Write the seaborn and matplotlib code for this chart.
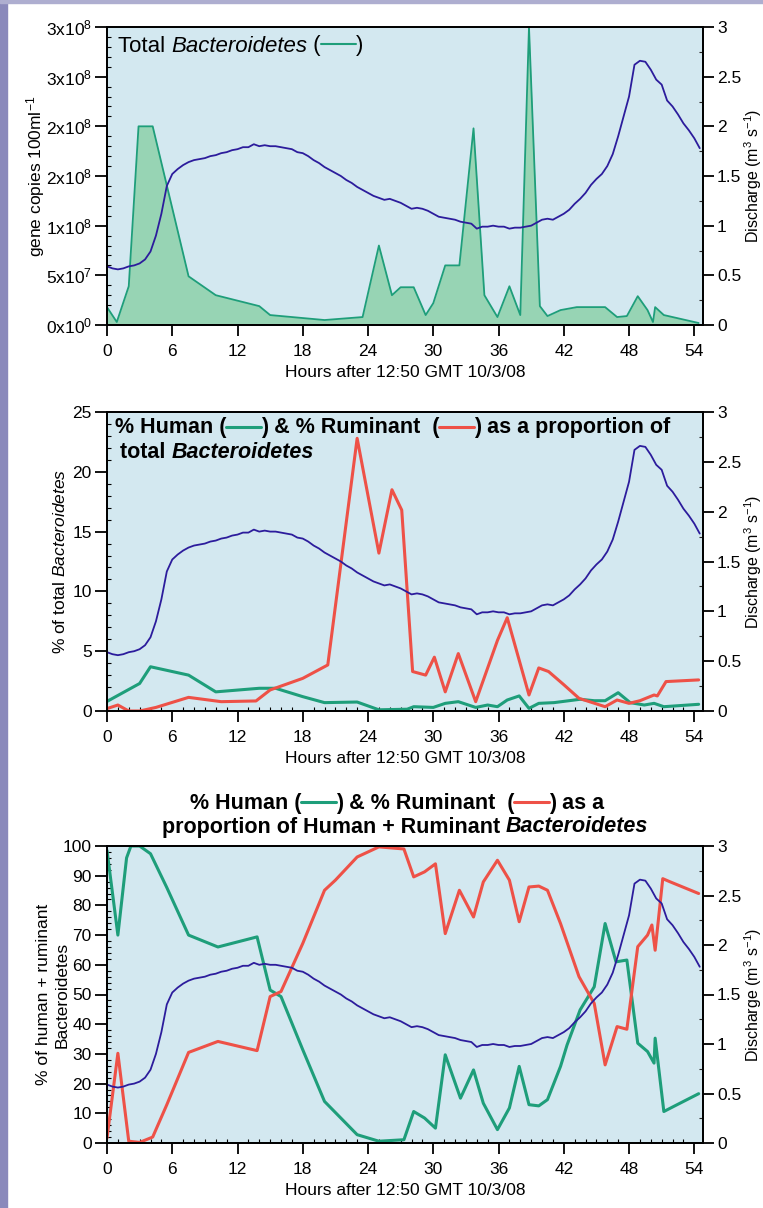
import numpy as np
import matplotlib
matplotlib.use("Agg")
import matplotlib.pyplot as plt
import seaborn as sns
from matplotlib.ticker import MultipleLocator
from matplotlib.patches import Rectangle
from matplotlib.lines import Line2D
from matplotlib.offsetbox import HPacker, TextArea, DrawingArea, AnnotationBbox

# ---------------- data ----------------
# discharge (m3 s-1), every 0.5 h from 0 to 54.5 h
t_q = np.arange(0, 55, 0.5)
discharge = [0.59, 0.57, 0.56, 0.57, 0.59, 0.60, 0.62, 0.66, 0.74, 0.90,
             1.12, 1.40, 1.52, 1.57, 1.61, 1.64, 1.66, 1.67, 1.68, 1.70,
             1.71, 1.73, 1.74, 1.76, 1.77, 1.79, 1.79, 1.82, 1.80, 1.81,
             1.80, 1.80, 1.79, 1.78, 1.77, 1.74, 1.73, 1.70, 1.66, 1.63,
             1.59, 1.56, 1.53, 1.50, 1.46, 1.43, 1.39, 1.36, 1.33, 1.30,
             1.28, 1.26, 1.27, 1.25, 1.23, 1.20, 1.17, 1.18, 1.17, 1.15,
             1.12, 1.09, 1.08, 1.07, 1.06, 1.04, 1.03, 1.02, 0.97, 0.99,
             0.99, 1.00, 0.99, 0.99, 0.97, 0.98, 0.98, 0.99, 1.00, 1.03,
             1.06, 1.07, 1.06, 1.09, 1.12, 1.16, 1.22, 1.27, 1.33, 1.41,
             1.47, 1.52, 1.60, 1.72, 1.90, 2.10, 2.30, 2.62, 2.66, 2.65,
             2.57, 2.47, 2.42, 2.26, 2.20, 2.12, 2.03, 1.96, 1.88, 1.78]

# panel 1: total Bacteroidetes (units of 1e7 gene copies / 100 ml)
t_total = [0, 0.9, 2.0, 2.9, 4.2, 7.5, 10.0, 14.0, 15.0, 20.0, 23.5, 25.0, 26.2,
           27.0, 28.2, 29.3, 30.0, 31.1, 32.4, 33.7, 34.7, 35.9, 37.0, 38.0,
           38.8, 39.8, 40.5, 41.7, 43.2, 45.8, 46.9, 47.8, 48.8, 49.7, 50.2,
           50.4, 51.2, 54.4]
total_bact = [1.8, 0.3, 3.9, 20.0, 20.0, 4.9, 3.0, 1.9, 1.0, 0.5, 0.8, 8.0, 3.0,
              3.8, 3.8, 1.0, 2.2, 6.0, 6.0, 19.8, 3.0, 0.8, 3.9, 1.0,
              30.0, 1.9, 0.9, 1.5, 1.8, 1.8, 0.8, 0.9, 2.9, 1.5, 0.3,
              1.8, 1.0, 0.2]

# panel 2: % of total Bacteroidetes
t_h2 = [0, 3, 4, 6, 7.5, 10, 14, 15.5, 18, 20, 23, 25, 27.6, 28.2, 30, 31.1, 32.3,
        33.9, 35, 35.9, 36.8, 37.9, 38.8, 39.7, 41.1, 42.3, 43.5, 44.8, 45.8, 47.0,
        48.1, 49.4, 50.3, 51.2, 54.4]
human2 = [0.8, 2.3, 3.7, 3.3, 3.0, 1.6, 1.9, 1.9, 1.2, 0.7, 0.75, 0.1, 0.15, 0.36,
          0.3, 0.64, 0.78, 0.3, 0.5, 0.36, 0.92, 1.26, 0.22, 0.64, 0.7, 0.84, 0.98,
          0.86, 0.86, 1.53, 0.7, 0.5, 0.64, 0.36, 0.56]
t_r2 = [0, 1, 2, 3, 4.5, 7.5, 10.5, 13.7, 15, 18, 20.3, 23, 25, 26.2, 27.1, 28.1,
        29.3, 30.1, 31.1, 32.3, 33.9, 35.9, 36.8, 38.8, 39.7, 40.6, 42, 43.4, 45.8,
        46.9, 48.0, 49.0, 50.3, 50.6, 51.4, 54.4]
rum2 = [0.2, 0.5, 0.0, 0.0, 0.3, 1.14, 0.78, 0.84, 1.76, 2.73, 3.85, 22.8, 13.2,
        18.5, 16.8, 3.3, 3.0, 4.5, 1.6, 4.8, 0.78, 5.9, 7.8, 1.34, 3.6, 3.3, 2.2,
        1.06, 0.36, 0.92, 0.64, 0.86, 1.34, 1.26, 2.46, 2.6]

# panel 3: % of human + ruminant Bacteroidetes
t_h3 = [0, 1, 1.8, 2.2, 3, 4, 5.5, 7.5, 10.2, 13.8, 15, 16, 18, 20, 23, 25, 27.3,
        28.2, 29.2, 30.2, 31.1, 32.5, 33.7, 34.6, 35.9, 37.0, 37.9, 38.8, 39.7,
        40.5, 41.7, 42.3, 43.5, 44.8, 45.8, 46.8, 47.8, 48.8, 49.7, 50.3, 50.4,
        51.2, 52.1, 54.4]
human3 = [98.5, 70, 96, 100, 100, 97.4, 86, 70, 66, 69.4, 51.5, 49.3, 31.4, 14,
          2.8, 0.6, 1.1, 10.6, 8.4, 5.0, 29.7, 15.1, 24.6, 13.4, 4.5, 11.8, 25.8,
          12.9, 12.5, 14.6, 25.8, 33, 44.8, 52.6, 73.9, 61, 61.6, 33.6, 30.8, 26.9,
          35.3, 10.6, 12.3, 16.6]
t_r3 = [0, 1, 2, 3, 4.2, 5.5, 7.5, 10.2, 13.8, 15, 16, 18, 20, 21, 23, 25, 27.3,
        28.2, 29.2, 30.2, 31.1, 32.4, 33.7, 34.6, 35.9, 37.0, 37.9, 38.8, 39.7,
        40.5, 41.7, 43.4, 44.8, 45.8, 46.9, 47.8, 48.8, 49.7, 50.1, 50.4, 51.1,
        51.8, 54.4]
rum3 = [1.7, 30.2, 0.6, 0.2, 2, 12.9, 30.5, 34.2, 31.1, 49.3, 51, 67.2, 85.1, 88.5,
        96.3, 99.7, 99, 89.6, 91.3, 94, 70.5, 85.1, 76.1, 87.9, 95.2, 88.5, 74.5,
        86.2, 86.5, 85.1, 73.9, 56, 47, 26.3, 39.2, 38.3, 66.1, 70, 73.4, 64.9,
        89, 87.9, 84]

x_ticks = [0, 6, 12, 18, 24, 30, 36, 42, 48, 54]
x_ticklabels = ["0", "6", "12", "18", "24", "30", "36", "42", "48", "54"]
q_ticks = [0, 0.5, 1, 1.5, 2, 2.5, 3]
q_ticklabels = ["0", "0.5", "1", "1.5", "2", "2.5", "3"]
p1_ticks = [0, 5, 10, 15, 20, 25, 30]
p1_ticklabels = [r"$\mathrm{0x10}^{0}$", r"$\mathrm{5x10}^{7}$", r"$\mathrm{1x10}^{8}$",
                 r"$\mathrm{2x10}^{8}$", r"$\mathrm{2x10}^{8}$", r"$\mathrm{3x10}^{8}$",
                 r"$\mathrm{3x10}^{8}$"]
p2_ticks = [0, 5, 10, 15, 20, 25]
p3_ticks = list(range(0, 101, 10))

# ---------------- style ----------------
sns.set_theme(style="ticks")
plt.rcParams["font.family"] = ["Liberation Sans", "DejaVu Sans"]
plt.rcParams["mathtext.fontset"] = "custom"
plt.rcParams["mathtext.rm"] = "Liberation Sans"
plt.rcParams["mathtext.it"] = "Liberation Sans:italic"
plt.rcParams["mathtext.bf"] = "Liberation Sans:bold"
plt.rcParams["mathtext.sf"] = "Liberation Sans"

BG = "#d3e8f0"
FILL = "#97d4b4"
GREEN = "#1e9e7a"
RED = "#ee5147"
NAVY = "#2c1c9c"
FS = 12.5
W, H = 763, 1208

fig = plt.figure(figsize=(W / 100, H / 100), dpi=100)
fig.patch.set_facecolor("white")
fig.patches.append(Rectangle((0, 0), 7 / W, 1, transform=fig.transFigure,
                             color="#8a89bb", zorder=0))
fig.patches.append(Rectangle((0, 1 - 3 / H), 1, 3 / H, transform=fig.transFigure,
                             color="#aeaed0", zorder=0))


def px_axes(top, bottom, left=107, right=703):
    return fig.add_axes([left / W, 1 - bottom / H, (right - left) / W, (bottom - top) / H])


def style_axes(ax):
    ax.set_facecolor(BG)
    for s in ax.spines.values():
        s.set_color("black")
        s.set_linewidth(1.3)
    ax.set_xlim(0, 54.8)
    ax.set_xticks(x_ticks)
    ax.set_xticklabels(x_ticklabels)
    ax.xaxis.set_minor_locator(MultipleLocator(1))
    ax.tick_params(axis="x", which="major", direction="out", length=8, width=1.3,
                   pad=6, labelsize=FS, colors="black")
    ax.tick_params(axis="y", which="major", direction="out", length=9, width=1.3,
                   pad=2, labelsize=FS, colors="black")
    ax.tick_params(axis="both", which="minor", direction="in", length=3, width=0.8,
                   colors="black")
    ax.set_xlabel("Hours after 12:50 GMT 10/3/08", fontsize=FS, labelpad=4, color="black")


def add_discharge(ax):
    tx = ax.twinx()
    sns.lineplot(x=t_q, y=discharge, ax=tx, color=NAVY, linewidth=1.3)
    tx.set_ylim(0, 3)
    tx.set_yticks(q_ticks)
    tx.set_yticklabels(q_ticklabels)
    tx.yaxis.set_minor_locator(MultipleLocator(0.25))
    tx.tick_params(axis="y", which="major", direction="out", length=8, width=1.3,
                   pad=2, labelsize=FS, colors="black")
    tx.tick_params(axis="y", which="minor", direction="in", length=3, width=0.8)
    for s in tx.spines.values():
        s.set_color("black")
        s.set_linewidth(1.3)
    tx.set_ylabel(r"Discharge ($\mathrm{m}^{3}$ $\mathrm{s}^{-1}$)", fontsize=11.5,
                  color="black")
    tx.yaxis.set_label_coords(1.066, 0.5)
    return tx


def rich_line(parts, x_px, y_px, fontsize, weight):
    children = []
    for p in parts:
        if p[0] == "line":
            w = 25
            da = DrawingArea(w, fontsize * 0.7, 0, 0)
            y = fontsize * 0.32
            da.add_artist(Line2D([0, w], [y, y], color=p[1], lw=2.2 if p[2] else 1.5))
            children.append(da)
        else:
            children.append(TextArea(p[1], textprops=dict(
                fontsize=fontsize, fontweight=weight, fontstyle=p[0], color="black")))
    box = HPacker(children=children, align="baseline", pad=0, sep=0)
    ab = AnnotationBbox(box, (x_px / W, 1 - y_px / H), xycoords="figure fraction",
                        box_alignment=(0, 0.5), frameon=False, pad=0)
    fig.add_artist(ab)


# ---------------- panel 1 ----------------
ax1 = px_axes(27, 325)
style_axes(ax1)
ax1.fill_between(t_total, total_bact, 0, color=FILL, linewidth=0)
sns.lineplot(x=t_total, y=total_bact, ax=ax1, color=GREEN, linewidth=1.3)
ax1.set_ylim(0, 30)
ax1.set_yticks(p1_ticks)
ax1.set_yticklabels(p1_ticklabels)
ax1.yaxis.set_minor_locator(MultipleLocator(1))
ax1.set_ylabel(r"gene copies 100ml$^{-1}$", fontsize=FS, color="black")
ax1.yaxis.set_label_coords(-0.100, 0.5)
add_discharge(ax1)
rich_line([("normal", "Total "), ("italic", "Bacteroidetes"), ("normal", " ("),
           ("line", GREEN, False), ("normal", ")")], 118, 46, 16, "normal")

# ---------------- panel 2 ----------------
ax2 = px_axes(412, 711)
style_axes(ax2)
sns.lineplot(x=t_h2, y=human2, ax=ax2, color=GREEN, linewidth=2.2)
sns.lineplot(x=t_r2, y=rum2, ax=ax2, color=RED, linewidth=2.2)
ax2.set_ylim(0, 25)
ax2.set_yticks(p2_ticks)
ax2.set_yticklabels([str(v) for v in p2_ticks])
ax2.yaxis.set_minor_locator(MultipleLocator(1))
ax2.set_ylabel(r"% of total $\mathit{Bacteroidetes}$", fontsize=FS, color="black")
ax2.yaxis.set_label_coords(-0.065, 0.5)
add_discharge(ax2)
rich_line([("normal", "% Human ("), ("line", GREEN, True),
           ("normal", ") & % Ruminant  ("), ("line", RED, True),
           ("normal", ") as a proportion of")], 115, 428, 15.5, "bold")
rich_line([("normal", "total "), ("italic", "Bacteroidetes")], 120, 453, 15.5, "bold")

# ---------------- panel 3 ----------------
ax3 = px_axes(846, 1143)
style_axes(ax3)
sns.lineplot(x=t_h3, y=human3, ax=ax3, color=GREEN, linewidth=2.2)
sns.lineplot(x=t_r3, y=rum3, ax=ax3, color=RED, linewidth=2.2)
ax3.set_ylim(0, 100)
ax3.set_yticks(p3_ticks)
ax3.set_yticklabels([str(v) for v in p3_ticks])
ax3.yaxis.set_minor_locator(MultipleLocator(2))
ax3.set_ylabel("% of human + ruminant\nBacteroidetes", fontsize=FS, color="black",
               linespacing=1.35)
ax3.yaxis.set_label_coords(-0.062, 0.5)
add_discharge(ax3)
rich_line([("normal", "% Human ("), ("line", GREEN, True),
           ("normal", ") & % Ruminant  ("), ("line", RED, True),
           ("normal", ") as a")], 190, 803, 15.5, "bold")
rich_line([("normal", "proportion of Human + Ruminant "), ("italic", "Bacteroidetes")],
          162, 827, 15.5, "bold")

fig.savefig("out.png", dpi=100, facecolor=fig.get_facecolor())
